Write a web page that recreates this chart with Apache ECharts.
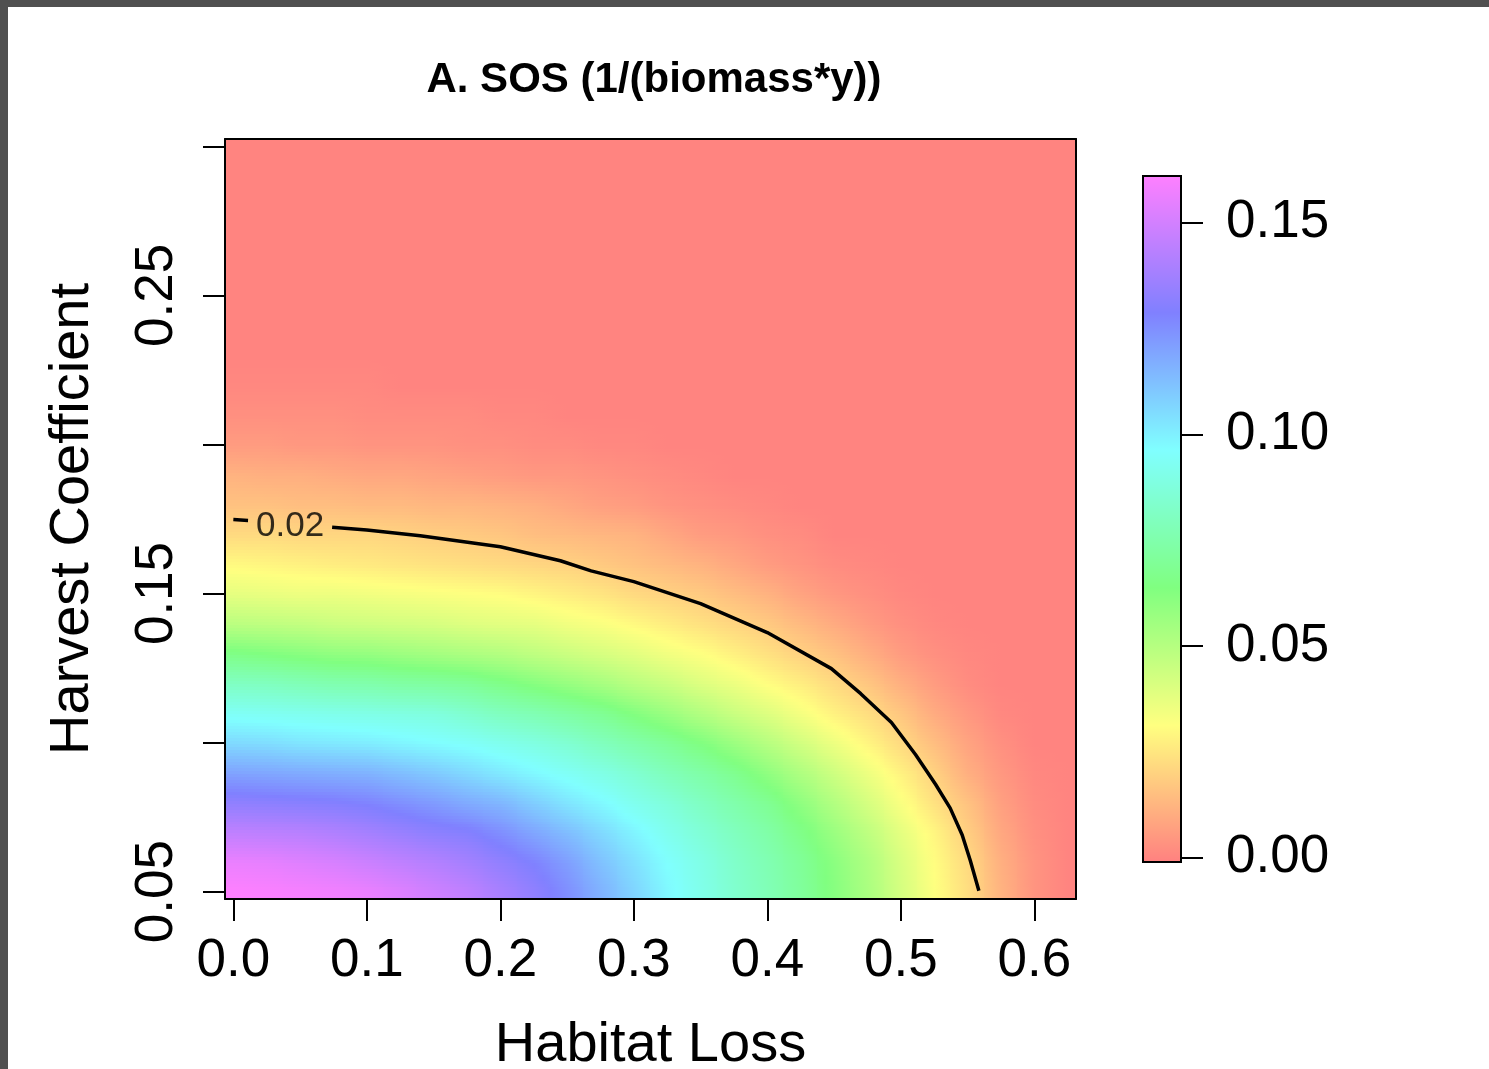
<!DOCTYPE html>
<html>
<head>
<meta charset="utf-8">
<title>A. SOS (1/(biomass*y))</title>
<script src="https://cdn.jsdelivr.net/npm/echarts@6/dist/echarts.min.js"></script>
<style>
  html, body { margin: 0; padding: 0; background: #ffffff; }
  #chart { position: absolute; left: 0; top: 0; width: 1489px; height: 1069px; }
  .edge { position: absolute; background: #505050; }
</style>
</head>
<body>
<div id="chart"></div>
<div class="edge" style="left:0;top:0;width:1489px;height:7px"></div>
<div class="edge" style="left:0;top:0;width:8px;height:1069px"></div>
<script>
// Grid of the surface: habitat loss (columns) x harvest coefficient (rows)
const habitatLoss = [0.000, 0.025, 0.050, 0.075, 0.100, 0.125, 0.150, 0.175, 0.200, 0.225,
                     0.250, 0.275, 0.300, 0.325, 0.350, 0.375, 0.400, 0.425, 0.450, 0.475,
                     0.500, 0.525, 0.550, 0.575, 0.600, 0.625];
const harvestCoef = [0.05, 0.06, 0.07, 0.08, 0.09, 0.10, 0.11, 0.12, 0.13, 0.14, 0.15, 0.16, 0.17,
                     0.18, 0.19, 0.20, 0.21, 0.22, 0.23, 0.24, 0.25, 0.26, 0.27, 0.28, 0.29, 0.30];

// SOS values, one row per harvest coefficient
const sos_q05 = [0.161,0.160,0.159,0.158,0.156,0.153,0.149,0.145,0.139,0.133,0.125,0.116,0.107,0.098,0.091,0.084,0.078,0.071,0.062,0.053,0.042,0.032,0.023,0.012,0.004,0];
const sos_q06 = [0.156,0.155,0.153,0.151,0.148,0.145,0.142,0.138,0.133,0.128,0.121,0.112,0.104,0.096,0.090,0.083,0.077,0.070,0.061,0.052,0.041,0.031,0.022,0.011,0.004,0];
const sos_q07 = [0.145,0.144,0.143,0.141,0.138,0.135,0.132,0.130,0.125,0.119,0.113,0.106,0.099,0.092,0.086,0.080,0.074,0.066,0.057,0.048,0.038,0.029,0.019,0.009,0.003,0];
const sos_q08 = [0.133,0.132,0.131,0.130,0.128,0.125,0.122,0.118,0.115,0.109,0.103,0.098,0.092,0.087,0.081,0.075,0.069,0.060,0.051,0.042,0.033,0.024,0.016,0.007,0.002,0];
const sos_q09 = [0.120,0.119,0.118,0.117,0.116,0.113,0.110,0.106,0.102,0.098,0.094,0.090,0.085,0.079,0.074,0.068,0.060,0.052,0.044,0.036,0.028,0.020,0.011,0.005,0.001,0];
const sos_q10 = [0.106,0.105,0.103,0.102,0.101,0.099,0.097,0.095,0.092,0.089,0.085,0.080,0.075,0.070,0.064,0.057,0.050,0.043,0.036,0.029,0.022,0.015,0.008,0.003,0,0];
const sos_q11 = [0.094,0.093,0.092,0.091,0.090,0.089,0.088,0.084,0.080,0.077,0.073,0.069,0.063,0.057,0.051,0.045,0.040,0.034,0.028,0.023,0.017,0.010,0.005,0.001,0,0];
const sos_q12 = [0.081,0.080,0.078,0.076,0.075,0.073,0.072,0.070,0.066,0.062,0.058,0.054,0.049,0.045,0.040,0.036,0.031,0.027,0.022,0.017,0.011,0.006,0.002,0,0,0];
const sos_q13 = [0.066,0.064,0.062,0.060,0.059,0.057,0.055,0.053,0.051,0.048,0.045,0.042,0.039,0.035,0.032,0.028,0.024,0.020,0.016,0.011,0.006,0.003,0.001,0,0,0];
const sos_q14 = [0.049,0.048,0.047,0.045,0.044,0.043,0.042,0.040,0.039,0.038,0.035,0.033,0.030,0.027,0.024,0.021,0.018,0.014,0.010,0.006,0.003,0.001,0,0,0,0];
const sos_q15 = [0.038,0.037,0.036,0.036,0.035,0.034,0.033,0.032,0.031,0.029,0.027,0.025,0.022,0.020,0.018,0.015,0.012,0.008,0.005,0.003,0.001,0,0,0,0,0];
const sos_q16 = [0.030,0.029,0.028,0.027,0.026,0.025,0.024,0.023,0.022,0.021,0.020,0.018,0.016,0.014,0.012,0.009,0.006,0.004,0.002,0.001,0,0,0,0,0,0];
const sos_q17 = [0.022,0.022,0.021,0.021,0.021,0.020,0.019,0.018,0.017,0.015,0.014,0.013,0.012,0.009,0.006,0.005,0.003,0.002,0,0,0,0,0,0,0,0];
const sos_q18 = [0.016,0.016,0.015,0.015,0.014,0.014,0.013,0.013,0.012,0.011,0.009,0.007,0.006,0.004,0.003,0.002,0.001,0,0,0,0,0,0,0,0,0];
const sos_q19 = [0.012,0.011,0.011,0.010,0.009,0.009,0.008,0.007,0.006,0.005,0.005,0.004,0.003,0.002,0.001,0,0,0,0,0,0,0,0,0,0,0];
const sos_q20 = [0.006,0.006,0.005,0.005,0.004,0.004,0.004,0.003,0.003,0.002,0.002,0.001,0.001,0,0,0,0,0,0,0,0,0,0,0,0,0];
const sos_q21 = [0.003,0.003,0.003,0.003,0.002,0.002,0.002,0.002,0.001,0.001,0,0,0,0,0,0,0,0,0,0,0,0,0,0,0,0];
const sos_q22 = [0.001,0.001,0.001,0.001,0.001,0,0,0,0,0,0,0,0,0,0,0,0,0,0,0,0,0,0,0,0,0];
const sos_q23 = [0,0,0,0,0,0,0,0,0,0,0,0,0,0,0,0,0,0,0,0,0,0,0,0,0,0];
const sos_q24 = [0,0,0,0,0,0,0,0,0,0,0,0,0,0,0,0,0,0,0,0,0,0,0,0,0,0];
const sos_q25 = [0,0,0,0,0,0,0,0,0,0,0,0,0,0,0,0,0,0,0,0,0,0,0,0,0,0];
const sos_q26 = [0,0,0,0,0,0,0,0,0,0,0,0,0,0,0,0,0,0,0,0,0,0,0,0,0,0];
const sos_q27 = [0,0,0,0,0,0,0,0,0,0,0,0,0,0,0,0,0,0,0,0,0,0,0,0,0,0];
const sos_q28 = [0,0,0,0,0,0,0,0,0,0,0,0,0,0,0,0,0,0,0,0,0,0,0,0,0,0];
const sos_q29 = [0,0,0,0,0,0,0,0,0,0,0,0,0,0,0,0,0,0,0,0,0,0,0,0,0,0];
const sos_q30 = [0,0,0,0,0,0,0,0,0,0,0,0,0,0,0,0,0,0,0,0,0,0,0,0,0,0];
const sosRows = [sos_q05, sos_q06, sos_q07, sos_q08, sos_q09, sos_q10, sos_q11, sos_q12, sos_q13,
                 sos_q14, sos_q15, sos_q16, sos_q17, sos_q18, sos_q19, sos_q20, sos_q21, sos_q22,
                 sos_q23, sos_q24, sos_q25, sos_q26, sos_q27, sos_q28, sos_q29, sos_q30];

// The 0.02 contour: a short piece left of its label, then the main curve
const contourLevel = 0.02;
const contourDashH = [0.000, 0.011];
const contourDashQ = [0.1748, 0.1745];
const contourH = [0.074, 0.100, 0.140, 0.200, 0.245, 0.268, 0.300, 0.350, 0.400, 0.448, 0.470, 0.493, 0.511, 0.526, 0.537, 0.546, 0.552, 0.5585];
const contourQ = [0.1722, 0.1713, 0.1694, 0.1657, 0.1610, 0.1576, 0.1540, 0.1466, 0.1369, 0.1248, 0.1164, 0.1067, 0.0960, 0.0860, 0.0780, 0.0690, 0.0605, 0.0503];
const contourLabelAt = [0.0425, 0.1724];

// Axis ticks and the colour scale
const xTicks = [0.0, 0.1, 0.2, 0.3, 0.4, 0.5, 0.6];
const yTicks = [0.05, 0.10, 0.15, 0.20, 0.25, 0.30];
const yTickLabels = [0.05, 0.15, 0.25];
const barTicks = [0.00, 0.05, 0.10, 0.15];
const zRange = [-0.001, 0.161];

// pastel rainbow (hue 0 -> 300, half saturation)
const PALETTE = ['#FF8080','#FFA080','#FFBF80','#FFDF80','#FFFF80','#DFFF80','#BFFF80','#A0FF80',
                 '#80FF80','#80FFA0','#80FFBF','#80FFDF','#80FFFF','#80DFFF','#80BFFF','#80A0FF',
                 '#8080FF','#A080FF','#BF80FF','#DF80FF','#FF80FF'];
const FONT = '"Liberation Sans", Arial, Helvetica, sans-serif';

const nCols = habitatLoss.length, nRows = harvestCoef.length;
const cellW = habitatLoss[1] - habitatLoss[0];
const cellH = harvestCoef[1] - harvestCoef[0];
const STRIPS = 10;   // horizontal bands per cell
const STOPS = 5;     // gradient stops across each band

const paletteRGB = PALETTE.map(c => [parseInt(c.slice(1, 3), 16), parseInt(c.slice(3, 5), 16), parseInt(c.slice(5, 7), 16)]);
function colorOf(v) {
  let t = (v - zRange[0]) / (zRange[1] - zRange[0]);
  t = Math.max(0, Math.min(1, t)) * (paletteRGB.length - 1);
  const k = Math.min(Math.floor(t), paletteRGB.length - 2), f = t - k;
  const a = paletteRGB[k], b = paletteRGB[k + 1];
  return 'rgb(' + a.map((c, i) => Math.round(c + (b[i] - c) * f)).join(',') + ')';
}
// smooth raster lookup between grid nodes
function surfaceAt(h, q) {
  const fj = Math.max(0, Math.min(nCols - 1, (h - habitatLoss[0]) / cellW));
  const fi = Math.max(0, Math.min(nRows - 1, (q - harvestCoef[0]) / cellH));
  const j0 = Math.min(Math.floor(fj), nCols - 2), i0 = Math.min(Math.floor(fi), nRows - 2);
  const tx = fj - j0, ty = fi - i0;
  const r0 = sosRows[i0], r1 = sosRows[i0 + 1];
  return (r0[j0] * (1 - tx) + r0[j0 + 1] * tx) * (1 - ty) + (r1[j0] * (1 - tx) + r1[j0 + 1] * tx) * ty;
}

const heatData = [];
harvestCoef.forEach((q, i) => {
  habitatLoss.forEach((h, j) => { heatData.push([h, q, sosRows[i][j]]); });
});

const chart = echarts.init(document.getElementById('chart'), null, { renderer: 'canvas' });

const frameLine = { show: true, onZero: false, lineStyle: { color: '#000', width: 2 } };
const tickLine = { color: '#000', width: 2 };
const labelFont = { fontFamily: FONT, fontSize: 53, color: '#000' };
const nameFont = { fontFamily: FONT, fontSize: 56, color: '#000' };

const option = {
  animation: false,
  backgroundColor: '#ffffff',
  title: {
    text: 'A. SOS (1/(biomass*y))',
    left: 649, top: 54, textAlign: 'center',
    textStyle: { fontFamily: FONT, fontSize: 42, fontWeight: 'bold', color: '#000' }
  },
  grid: [
    { left: 225, top: 139, width: 851, height: 760, outerBoundsMode: 'none', containLabel: false },
    { left: 1143, top: 176, width: 38, height: 686, outerBoundsMode: 'none', containLabel: false }
  ],
  xAxis: [
    {
      gridIndex: 0, type: 'value', position: 'bottom', min: -0.00625, max: 0.63125, z: 5,
      axisLine: frameLine,
      axisTick: { show: true, inside: false, length: 22, customValues: xTicks, lineStyle: tickLine },
      axisLabel: Object.assign({ customValues: xTicks, margin: 36, formatter: v => v.toFixed(1) }, labelFont),
      splitLine: { show: false },
      name: 'Habitat Loss', nameLocation: 'middle', nameGap: 119, nameTextStyle: nameFont
    },
    {
      gridIndex: 0, type: 'value', position: 'top', min: -0.00625, max: 0.63125, z: 5,
      axisLine: frameLine, axisTick: { show: false }, axisLabel: { show: false }, splitLine: { show: false }
    },
    { gridIndex: 1, type: 'value', min: 0, max: 1, show: false }
  ],
  yAxis: [
    {
      gridIndex: 0, type: 'value', position: 'left', min: 0.0475, max: 0.3025, z: 5,
      axisLine: frameLine,
      axisTick: { show: true, inside: false, length: 22, customValues: yTicks, lineStyle: tickLine },
      axisLabel: Object.assign({ customValues: yTickLabels, rotate: 90, margin: 41, formatter: v => v.toFixed(2) }, labelFont),
      splitLine: { show: false },
      name: 'Harvest Coefficient', nameLocation: 'middle', nameGap: 124, nameRotate: 90, nameTextStyle: nameFont
    },
    {
      gridIndex: 0, type: 'value', position: 'right', min: 0.0475, max: 0.3025, z: 5,
      axisLine: frameLine, axisTick: { show: false }, axisLabel: { show: false }, splitLine: { show: false }
    },
    {
      gridIndex: 1, type: 'value', position: 'right', min: zRange[0], max: zRange[1], z: 5,
      axisLine: { show: false, onZero: false },
      axisTick: { show: true, inside: false, length: 22, customValues: barTicks, lineStyle: tickLine },
      axisLabel: Object.assign({ customValues: barTicks, margin: 45, formatter: v => v.toFixed(2) }, labelFont),
      splitLine: { show: false }
    }
  ],
  series: [
    {
      // surface cells, shaded smoothly towards their neighbours
      type: 'custom', xAxisIndex: 0, yAxisIndex: 0, clip: true, silent: true, z: 1,
      data: heatData,
      renderItem: (params, api) => {
        const x = api.value(0), y = api.value(1);
        const hl = x - cellW / 2, qb = y - cellH / 2;
        const pl = api.coord([hl, y])[0], pr = api.coord([hl + cellW, y])[0];
        const x0 = Math.floor(pl), w = Math.ceil(pr) - x0 + 1;
        const children = [];
        for (let s = 0; s < STRIPS; s++) {
          const qa = qb + s * cellH / STRIPS, qz = qa + cellH / STRIPS, qm = (qa + qz) / 2;
          const ya = api.coord([x, qz])[1], yz = api.coord([x, qa])[1];
          const y0 = Math.floor(ya), hgt = Math.ceil(yz) - y0 + 1;
          const stops = [];
          for (let k = 0; k < STOPS; k++) {
            const f = k / (STOPS - 1);
            stops.push({ offset: f, color: colorOf(surfaceAt(hl + f * cellW, qm)) });
          }
          children.push({
            type: 'rect',
            shape: { x: x0, y: y0, width: w, height: hgt },
            style: { fill: new echarts.graphic.LinearGradient(0, 0, 1, 0, stops) }
          });
        }
        return { type: 'group', children };
      }
    },
    {
      type: 'line', xAxisIndex: 0, yAxisIndex: 0, symbol: 'none', silent: true, z: 4,
      lineStyle: { color: '#000', width: 3.5 },
      data: contourDashH.map((h, i) => [h, contourDashQ[i]])
    },
    {
      type: 'line', xAxisIndex: 0, yAxisIndex: 0, symbol: 'none', silent: true, z: 4,
      lineStyle: { color: '#000', width: 3.5 },
      data: contourH.map((h, i) => [h, contourQ[i]])
    },
    {
      type: 'scatter', xAxisIndex: 0, yAxisIndex: 0, silent: true, z: 4,
      symbolSize: 1, itemStyle: { color: 'rgba(0,0,0,0)' },
      label: {
        show: true, position: 'inside', formatter: contourLevel.toFixed(2),
        fontFamily: FONT, fontSize: 35, color: '#000'
      },
      data: [contourLabelAt]
    },
    {
      // colour bar
      type: 'custom', xAxisIndex: 2, yAxisIndex: 2, silent: true, z: 3,
      data: [[0, zRange[1], zRange[0]]],
      renderItem: (params, api) => {
        const p0 = api.coord([0, api.value(1)]);
        const p1 = api.coord([1, api.value(2)]);
        const stops = PALETTE.map((c, i) => ({ offset: i / (PALETTE.length - 1), color: c }));
        return {
          type: 'rect',
          shape: { x: p0[0], y: p0[1], width: p1[0] - p0[0], height: p1[1] - p0[1] },
          style: { fill: new echarts.graphic.LinearGradient(0, 1, 0, 0, stops), stroke: '#000', lineWidth: 2 }
        };
      }
    }
  ]
};

chart.setOption(option);
</script>
</body>
</html>
